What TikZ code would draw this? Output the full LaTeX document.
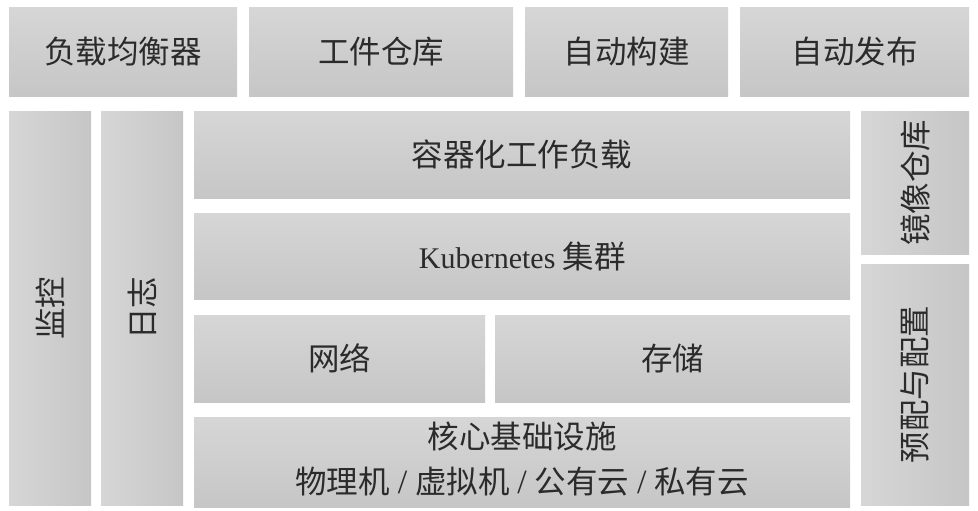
\documentclass[tikz,border=0pt]{standalone}
\usepackage{fontspec}
\setmainfont{Liberation Serif}
\newfontfamily\cjk{Noto Sans CJK SC}
\definecolor{boxhi}{HTML}{D6D6D6}
\definecolor{boxlo}{HTML}{C6C6C6}
\definecolor{ink}{HTML}{2B2B2B}
\tikzset{
  hbox/.style={draw=none, top color=boxhi, bottom color=boxlo, anchor=north west, inner sep=0pt, text=ink},
  vbox/.style={draw=none, left color=boxhi, right color=boxlo, anchor=north west, inner sep=0pt, text=ink},
  lbl/.style={font=\fontsize{31.5}{45}\selectfont\cjk}
}
\newcommand{\bx}[7]{% style, name, x1, y1, x2, y2, text
  \node[#1, lbl, minimum width={(#5-#3)*1pt}, minimum height={(#6-#4)*1pt}] (#2) at (#3,#4) {#7};}
\newcommand{\lat}[1]{{\rmfamily\fontsize{30}{45}\selectfont #1}}
\newcommand{\sep}{\hspace{0.25em}{\rmfamily\fontsize{34}{45}\selectfont /}\hspace{0.25em}}
\begin{document}
\begin{tikzpicture}[x=1pt,y=-1pt]
\useasboundingbox[fill=white] (0,0) rectangle (978,511);
% top row
\bx{hbox}{lb}{9}{7}{237}{96}{负载均衡器}
\bx{hbox}{art}{249}{7}{513}{96}{工件仓库}
\bx{hbox}{build}{525}{7}{728}{96}{自动构建}
\bx{hbox}{rel}{740}{7}{969}{96}{自动发布}
% left columns
\bx{vbox}{mon}{9}{111}{91}{505}{\rotatebox{90}{监控}}
\bx{vbox}{log}{101}{111}{183}{505}{\rotatebox{90}{日志}}
% center stack
\bx{hbox}{work}{194}{111}{850}{198}{容器化工作负载}
\bx{hbox}{k8s}{194}{213}{850}{299}{\lat{Kubernetes} 集群}
\bx{hbox}{net}{194}{315}{485}{402}{网络}
\bx{hbox}{sto}{495}{315}{850}{402}{存储}
\bx{hbox}{core}{194}{417}{850}{505}{\begin{tabular}{@{}c@{}}核心基础设施\\[0pt]物理机\sep 虚拟机\sep 公有云\sep 私有云\end{tabular}}
% right column
\bx{vbox}{img}{861}{111}{969}{254}{\rotatebox{90}{镜像仓库}}
\bx{vbox}{prov}{861}{264}{969}{505}{\rotatebox{90}{预配与配置}}
\end{tikzpicture}
\end{document}
